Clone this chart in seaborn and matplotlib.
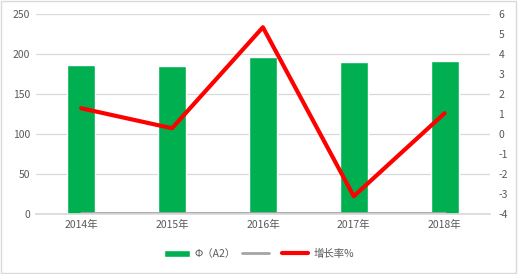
import matplotlib
matplotlib.use("Agg")
import matplotlib.pyplot as plt
import seaborn as sns
import pandas as pd
from matplotlib.patches import Rectangle

years = ["2014年", "2015年", "2016年", "2017年", "2018年"]
values_a2 = [187, 185, 196, 190, 192]
values_gray = [1.5, 1.5, 1.5, 1.5, 1.5]
growth = [1.3, 0.3, 5.35, -3.1, 1.05]

sns.set_theme(style="white")
plt.rcParams['font.family'] = ['Noto Sans CJK SC', 'DejaVu Sans']
plt.rcParams['axes.unicode_minus'] = False

df = pd.DataFrame({"year": years, "a2": values_a2, "gray": values_gray,
                   "growth": growth, "pos": range(len(years))})

fig = plt.figure(figsize=(5.18, 2.74), dpi=100)
ax = fig.add_axes([0.069, 0.218, 0.877, 0.73])

sns.barplot(data=df, x="year", y="a2", color="#00b050", saturation=1,
            width=0.31, ax=ax, label="Φ（A2）")
sns.lineplot(data=df, x="pos", y="gray", color="#a5a5a5", linewidth=2,
             ax=ax, label=" ")
ax.set_xlim(-0.5, 4.5)
ax.set_ylim(0, 250)
ax.set_yticks([0, 50, 100, 150, 200, 250])
ax.grid(axis="y", color="#d9d9d9", linewidth=0.9)
ax.set_axisbelow(True)
for s in ["top", "right", "left"]:
    ax.spines[s].set_visible(False)
ax.spines["bottom"].set_color("#d9d9d9")
ax.set_xlabel("")
ax.set_ylabel("")
ax.tick_params(axis="both", length=0, labelsize=7.5, colors="#595959", pad=4)

ax2 = ax.twinx()
sns.lineplot(data=df, x="pos", y="growth", color="#ff0000", linewidth=3,
             ax=ax2, label="增长率%")
ax2.set_ylim(-4, 6)
ax2.set_yticks(range(-4, 7))
for s in ["top", "right", "left", "bottom"]:
    ax2.spines[s].set_visible(False)
ax2.set_ylabel("")
ax2.tick_params(axis="y", length=0, labelsize=7.5, colors="#595959", pad=6)
ax2.set_xlim(-0.5, 4.5)

h1, l1 = ax.get_legend_handles_labels()
h2, l2 = ax2.get_legend_handles_labels()
pairs = list(zip(h1, l1))
pairs.sort(key=lambda p: 0 if p[1] == "Φ（A2）" else 1)
handles = [p[0] for p in pairs] + h2
labels = [p[1] for p in pairs] + l2
if ax.get_legend():
    ax.get_legend().remove()
if ax2.get_legend():
    ax2.get_legend().remove()
fig.legend(handles, labels, loc="center", bbox_to_anchor=(0.5, 0.073),
           ncol=3, frameon=False, fontsize=7.5, labelcolor="#595959",
           handlelength=2.5, columnspacing=0.6, handletextpad=0.5)

fig.patches.append(Rectangle((0.002, 0.004), 0.995, 0.992, transform=fig.transFigure,
                             fill=False, edgecolor="#d9d9d9", linewidth=1))

fig.savefig("out.png", dpi=100)
